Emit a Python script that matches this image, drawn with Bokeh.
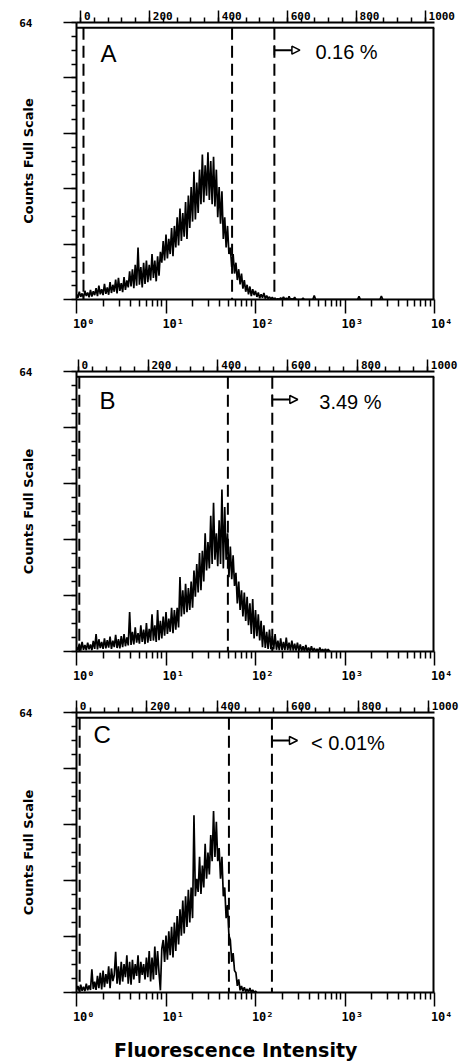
import math
from bokeh.plotting import figure
from bokeh.models import (Range1d, LinearAxis, FixedTicker, Label, Arrow,
                          NormalHead, TeeHead, CustomJSTickFormatter)
from bokeh.layouts import column
from bokeh.embed import file_html
from bokeh.resources import INLINE

# ---------------- data ----------------
PANELS = ["A", "B", "C"]
PERCENTS = ["0.16 %", "3.49 %", "< 0.01%"]
Y_LABEL = "Counts Full Scale"
X_LABEL = "Fluorescence Intensity"
FULL_SCALE = 64
FULL_SCALE_LABEL = "64"
CHANNEL_STEP = 4            # channels per histogram value (1024 channels = 4 decades)
N_CHANNELS = 1024

COUNTS_A = [
    1.2, 0.4, 1.8, 0.6, 1.4, 0.3, 2.0, 0.8, 1.6, 0.5,
    2.2, 0.7, 1.9, 1.0, 2.6, 0.8, 3.2, 1.2, 2.4, 1.0,
    3.6, 1.3, 2.8, 1.1, 4.0, 1.5, 3.4, 1.8, 4.6, 1.4,
    5.0, 2.0, 3.8, 1.7, 5.2, 2.2, 4.4, 2.8, 6.5, 3.0,
    7.0, 2.6, 8.0, 3.2, 12.0, 3.4, 7.5, 2.8, 8.5, 3.6,
    9.0, 4.0, 8.0, 4.4, 10.5, 5.0, 9.0, 4.2, 10.0, 5.5,
    11.0, 8.5, 13.5, 9.0, 15.0, 9.5, 14.0, 10.5, 16.5, 10.0,
    17.0, 12.0, 19.0, 12.5, 21.0, 13.5, 20.0, 14.5, 22.5, 14.0,
    24.0, 16.5, 26.0, 18.0, 29.5, 18.5, 27.0, 20.0, 30.0, 22.0,
    33.5, 22.5, 31.0, 24.0, 34.0, 23.0, 32.0, 22.0, 33.0, 21.5,
    30.0, 19.0, 26.0, 17.5, 25.0, 14.0, 19.0, 12.0, 17.0, 10.5,
    12.0, 7.5, 10.5, 6.0, 8.5, 4.5, 7.0, 3.5, 6.0, 2.5,
    4.5, 1.8, 3.4, 1.2, 3.0, 0.8, 2.4, 1.0, 2.0, 0.6,
    1.6, 0.3, 1.2, 0.4, 1.5, 0.2, 0.9, 0.2, 0.6, 0.1,
    0.5, 0.0, 0.3, 0.0, 0.2, 0.0, 0.4, 0.0, 0.6, 0.0,
    0.3, 0.0, 0.7, 0.0, 0.2, 0.0, 0.5, 0.0, 0.0, 0.0,
    0.0, 0.0, 0.3, 0.0, 0.0, 0.0, 0.0, 0.0, 0.0, 0.0,
    0.9, 0.0, 0.0, 0.0, 0.0, 0.0, 0.0, 0.0, 0.0, 0.0,
    0.0, 0.0, 0.0, 0.0, 0.0, 0.0, 0.0, 0.0, 0.0, 0.0,
    0.0, 0.0, 0.0, 0.0, 0.0, 0.0, 0.0, 0.0, 0.0, 0.0,
    0.0, 0.0, 0.7, 0.0, 0.0, 0.0, 0.0, 0.0, 0.0, 0.0,
    0.0, 0.0, 0.0, 0.0, 0.0, 0.0, 0.0, 0.0, 0.8, 0.0,
]

COUNTS_B = [
    1.0, 0.3, 1.8, 0.2, 2.2, 0.4, 1.5, 0.3, 2.0, 0.5,
    1.6, 0.3, 2.4, 0.6, 4.0, 0.5, 2.8, 0.8, 2.2, 0.6,
    3.0, 0.7, 2.6, 0.9, 3.4, 0.6, 2.5, 1.0, 3.8, 0.8,
    2.8, 0.7, 3.5, 1.0, 4.0, 1.2, 3.2, 1.4, 9.0, 1.5,
    4.5, 1.6, 5.5, 2.0, 4.2, 1.8, 6.0, 2.2, 5.0, 1.7,
    6.5, 2.0, 5.2, 2.4, 8.5, 2.5, 6.0, 2.2, 9.5, 2.6,
    7.0, 3.0, 8.0, 3.6, 9.0, 4.0, 7.5, 4.5, 10.0, 4.2,
    9.5, 5.0, 10.0, 5.5, 17.0, 8.0, 14.0, 8.5, 15.5, 9.0,
    14.5, 9.5, 16.0, 10.0, 18.5, 12.5, 20.0, 13.5, 22.5, 14.0,
    23.0, 16.0, 27.0, 18.5, 25.0, 19.0, 31.0, 20.0, 34.0, 21.0,
    27.0, 19.5, 30.0, 20.0, 37.0, 19.0, 33.0, 21.0, 27.0, 17.0,
    24.0, 16.5, 22.0, 15.0, 18.0, 11.0, 16.0, 9.5, 14.0, 8.0,
    13.5, 7.0, 12.5, 6.0, 11.0, 4.0, 12.0, 3.0, 9.5, 3.5,
    8.5, 2.5, 7.0, 1.0, 6.0, 0.8, 4.5, 0.6, 5.0, 0.5,
    3.5, 0.5, 4.0, 0.4, 2.5, 0.3, 3.0, 0.3, 2.2, 0.3,
    3.2, 0.3, 2.0, 0.2, 2.5, 0.2, 1.8, 0.2, 2.0, 0.1,
    1.6, 0.1, 1.2, 0.0, 1.5, 0.0, 0.9, 0.0, 1.2, 0.0,
    0.8, 0.0, 0.6, 0.0, 0.9, 0.0, 0.5, 0.0, 0.6, 0.0,
    0.5, 0.0, 0.0,
]

COUNTS_C = [
    0.5, 1.5, 0.3, 1.8, 0.4, 1.3, 0.3, 2.0, 0.5, 1.6,
    0.6, 5.3, 0.8, 2.5, 0.6, 3.8, 1.0, 4.5, 0.7, 5.0,
    1.2, 4.2, 2.0, 6.0, 1.0, 5.5, 2.6, 4.0, 9.3, 2.0,
    6.0, 1.8, 7.0, 2.5, 6.5, 3.5, 8.5, 2.0, 7.0, 1.8,
    7.5, 3.0, 6.5, 3.8, 8.5, 2.2, 7.0, 4.0, 6.5, 3.0,
    8.0, 3.5, 9.5, 2.5, 8.0, 3.0, 10.5, 4.0, 9.5, 4.5,
    0.5, 10.0, 12.0, 7.0, 13.0, 7.5, 14.0, 8.5, 15.0, 8.0,
    16.0, 9.5, 17.5, 11.0, 19.0, 13.0, 21.0, 13.5, 22.0, 15.0,
    23.5, 16.0, 24.0, 17.0, 40.5, 22.0, 26.0, 23.0, 31.0, 22.5,
    29.0, 24.0, 34.0, 26.0, 32.0, 27.0, 36.0, 30.0, 41.5, 31.0,
    39.0, 30.0, 33.0, 26.0, 31.0, 22.0, 24.0, 17.0, 20.0, 13.0,
    12.0, 7.0, 9.0, 5.0, 4.5, 1.5, 3.0, 0.5, 1.5, 0.3,
    1.2, 0.2, 0.8, 0.1, 1.0, 0.0, 0.6, 0.0, 0.3, 0.0,
]

COUNTS = [COUNTS_A, COUNTS_B, COUNTS_C]

# gate positions (channels)
GATES_A = [20, 445, 566]
GATES_B = [8, 433, 560]
GATES_C = [9, 436, 559]
GATES = [GATES_A, GATES_B, GATES_C]

TOP_TICKS = [0, 200, 400, 600, 800, 1000]
TOP_TICK_LABELS = ["0", "200", "400", "600", "800", "1000"]
DECADE_TICKS = [0, 256, 512, 768, 1024]
DECADE_LABELS = ["10\u2070", "10\u00b9", "10\u00b2", "10\u00b3", "10\u2074"]

# ---------------- layout / style ----------------
FIG_W = 470
LAYOUT = [
    dict(height=345, left=76, right=30, top=22, bottom=46, top_range=(-12, 1027),
         letter_dx=24, letter_dy=17, pct_dx=41),
    dict(height=343, left=72, right=35, top=26, bottom=37, top_range=(-5, 1020),
         letter_dx=23, letter_dy=15, pct_dx=47),
    dict(height=375, left=71, right=36, top=24, bottom=69, top_range=(0, 1017),
         letter_dx=17, letter_dy=8, pct_dx=39),
]
BOX_TOP = 62.8
ARROW_Y = 57.6
ARROW_LEN = 73
TICK_FONT = "DejaVu Sans Mono"
NBSP = "\u00a0"


def style_axis(ax, tick_out, minor_out, label_size="0px", standoff=0):
    ax.axis_line_width = 2
    ax.axis_line_color = "black"
    ax.major_tick_line_color = "black"
    ax.minor_tick_line_color = "black"
    ax.major_tick_line_width = 1.5
    ax.minor_tick_line_width = 1.5
    ax.major_tick_in = 0
    ax.minor_tick_in = 0
    ax.major_tick_out = tick_out
    ax.minor_tick_out = minor_out
    ax.formatter = CustomJSTickFormatter(code="return ''")
    ax.major_label_text_font = TICK_FONT
    ax.major_label_text_font_style = "bold"
    ax.major_label_text_color = "black"
    ax.major_label_text_font_size = label_size
    ax.major_label_standoff = standoff


def make_panel(i):
    L = LAYOUT[i]
    counts = COUNTS[i]
    channels = [k * CHANNEL_STEP for k in range(len(counts))]
    p = figure(width=FIG_W, height=L["height"],
               x_range=Range1d(0, N_CHANNELS), y_range=Range1d(0, FULL_SCALE),
               output_backend="svg", toolbar_location=None,
               min_border_left=L["left"], min_border_right=L["right"],
               min_border_top=L["top"], min_border_bottom=L["bottom"])
    p.extra_x_ranges = {"top": Range1d(*L["top_range"])}
    p.grid.visible = False
    p.outline_line_color = None
    p.background_fill_color = "white"
    p.border_fill_color = "white"

    # bottom log-decade axis (labels shifted right with no-break spaces, like the original)
    xa = p.below[0]
    minor_log = [256 * d + 256 * math.log10(k) for d in range(4) for k in range(2, 10)]
    xa.ticker = FixedTicker(ticks=DECADE_TICKS, minor_ticks=minor_log)
    style_axis(xa, 14, 7, "12px", 3)
    xa.major_label_overrides = {t: NBSP * 2 + s for t, s in zip(DECADE_TICKS, DECADE_LABELS)}

    # left counts axis, only the full-scale value labelled
    ya = p.left[0]
    yt = [FULL_SCALE * k / 5 for k in range(6)]
    ya.ticker = FixedTicker(ticks=yt, minor_ticks=[FULL_SCALE * k / 20 for k in range(21)])
    style_axis(ya, 13, 5, "11px", 31)
    ya.major_label_overrides = {FULL_SCALE: FULL_SCALE_LABEL}
    ya.axis_label = Y_LABEL
    ya.axis_label_text_font = "DejaVu Sans"
    ya.axis_label_text_font_style = "bold"
    ya.axis_label_text_font_size = "13px"
    ya.axis_label_text_color = "black"
    ya.axis_label_standoff = -20

    # top channel axis; labels sit to the right of their tick
    ta = LinearAxis(x_range_name="top",
                    ticker=FixedTicker(ticks=TOP_TICKS, minor_ticks=list(range(0, 1001, 40))))
    style_axis(ta, 12, 5, "11px", -12)
    ta.major_label_overrides = {t: NBSP * (len(s) + 1) + s for t, s in zip(TOP_TICKS, TOP_TICK_LABELS)}
    p.add_layout(ta, "above")

    # frame: box top + right side
    p.segment(x0=[0], y0=[BOX_TOP], x1=[N_CHANNELS], y1=[BOX_TOP],
              line_color="black", line_width=2)
    p.segment(x0=[N_CHANNELS], y0=[0], x1=[N_CHANNELS], y1=[BOX_TOP],
              line_color="black", line_width=4)

    # gates
    g = GATES[i]
    p.segment(x0=g, y0=[BOX_TOP] * len(g), x1=g, y1=[0] * len(g),
              line_color="black", line_width=2, line_dash="12 6")

    # histogram
    p.line(channels, counts, line_color="black", line_width=1.7)

    # panel letter
    p.add_layout(Label(x=0, y=FULL_SCALE, x_offset=L["letter_dx"], y_offset=-L["letter_dy"],
                       text=PANELS[i], text_baseline="top", text_align="left",
                       text_color="black",
                       text_font="Liberation Sans", text_font_size="24px"))
    # arrow + percentage
    gx = g[-1]
    p.add_layout(Arrow(start=TeeHead(size=10, line_width=1.5),
                       end=NormalHead(size=8, fill_color="white", line_width=1.5),
                       x_start=gx, y_start=ARROW_Y, x_end=gx + ARROW_LEN, y_end=ARROW_Y,
                       line_width=2))
    p.add_layout(Label(x=gx, y=ARROW_Y, x_offset=L["pct_dx"], y_offset=-2, text=PERCENTS[i],
                       text_baseline="middle", text_align="left", text_color="black",
                       text_font="Liberation Sans", text_font_size="20px"))
    return p


figs = [make_panel(i) for i in range(3)]
xa_c = figs[2].below[0]
xa_c.axis_label = X_LABEL + NBSP * 6
xa_c.axis_label_text_font = "DejaVu Sans"
xa_c.axis_label_text_font_style = "bold"
xa_c.axis_label_text_font_size = "19px"
xa_c.axis_label_text_color = "black"
xa_c.axis_label_standoff = 12

layout = column(*figs, spacing=0)
open("out.html", "w").write(file_html(layout, INLINE))
